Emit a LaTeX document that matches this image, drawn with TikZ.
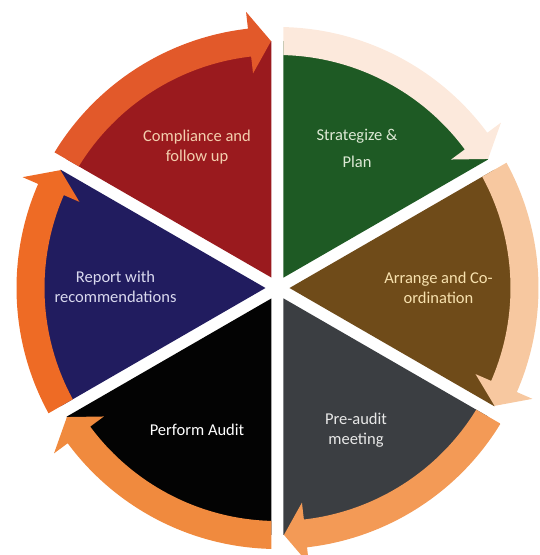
\documentclass[tikz,border=0pt]{standalone}
\usepackage{fontspec}
\setmainfont{Carlito}
\usetikzlibrary{calc}

\definecolor{redsector}{HTML}{9A1A1E}
\definecolor{redband}{HTML}{E2592A}
\definecolor{greensector}{HTML}{1E5A24}
\definecolor{greenband}{HTML}{FCE9DC}
\definecolor{brownsector}{HTML}{6F4B19}
\definecolor{brownband}{HTML}{F7C8A0}
\definecolor{graysector}{HTML}{3B3E42}
\definecolor{grayband}{HTML}{F39A56}
\definecolor{blacksector}{HTML}{030303}
\definecolor{blackband}{HTML}{F08A3E}
\definecolor{bluesector}{HTML}{211C5F}
\definecolor{blueband}{HTML}{EE6B25}

\definecolor{redtext}{HTML}{F3CFAE}
\definecolor{greentext}{HTML}{DDE9D5}
\definecolor{browntext}{HTML}{F7E1AE}
\definecolor{graytext}{HTML}{E8E8E8}
\definecolor{blacktext}{HTML}{FFFFFF}
\definecolor{bluetext}{HTML}{D9D9EE}

% radii: sector, band inner/outer, arrow head inner/outer, tip
\def\gapw{6}
\def\Rs{247}
\def\Ri{233}
\def\Ro{261}
\def\Rhi{216}
\def\Rho{278}
\def\Rt{247}

% one 60-degree segment with its clockwise arrow band
% #1 lower boundary angle, #2 sector colour, #3 band colour
\newcommand\cyclesegment[3]{%
  \begin{scope}
    \clip (#1+30:2*\gapw) -- ($(#1:400)+(#1+90:\gapw)$) -- (#1+30:500)
      -- ($(#1+60:400)+(#1-30:\gapw)$) -- cycle;
    \fill[#2] (0,0) circle[radius=\Rs];
    \fill[#3] (#1+62:\Ro) arc[start angle=#1+62, end angle=#1+6.5, radius=\Ro]
      -- (#1+6.5:\Rho) -- (#1+1.5:\Rt) -- (#1+6.5:\Rhi) -- (#1+6.5:\Ri)
      arc[start angle=#1+6.5, end angle=#1+62, radius=\Ri] -- cycle;
  \end{scope}}

\begin{document}
\begin{tikzpicture}[x=1pt,y=1pt,
  steplabel/.style={align=center, inner sep=0pt,
    font=\fontsize{16.5}{20}\selectfont}]
\useasboundingbox (-277.5,-267) rectangle (261.5,288);

\cyclesegment{30}{greensector}{greenband}
\cyclesegment{90}{redsector}{redband}
\cyclesegment{150}{bluesector}{blueband}
\cyclesegment{210}{blacksector}{blackband}
\cyclesegment{270}{graysector}{grayband}
\cyclesegment{330}{brownsector}{brownband}

\node[steplabel, text=redtext] (comply) at (-80.5,141) {Compliance and\\follow up};
\node[steplabel, text=greentext] (plan) at (79.5,139.5) {Strategize \&\\[7pt]Plan};
\node[steplabel, text=browntext] (arrange) at (161,0) {Arrange and Co-\\ordination};
\node[steplabel, text=graytext] (preaudit) at (78.5,-142) {Pre-audit\\meeting};
\node[steplabel, text=blacktext] (perform) at (-80.5,-142) {Perform Audit};
\node[steplabel, text=bluetext] (report) at (-162,1) {Report with\\recommendations};
\end{tikzpicture}
\end{document}
